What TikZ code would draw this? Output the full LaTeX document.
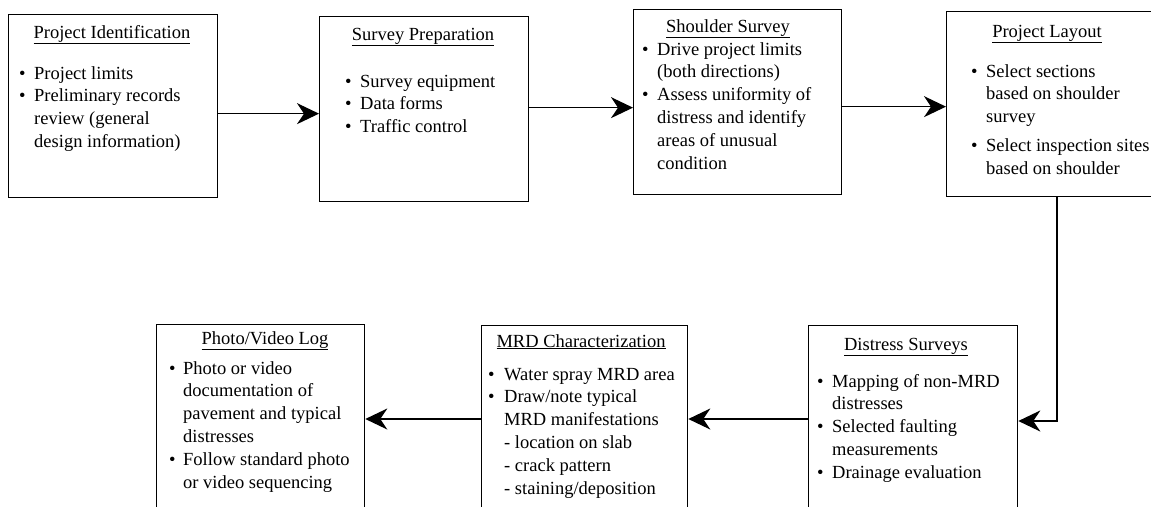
\documentclass[tikz,border=0pt]{standalone}
\usepackage{fontspec}
\setmainfont{Liberation Serif}
\usetikzlibrary{arrows.meta}
\newcommand\bl{\textbullet}
\begin{document}
\begin{tikzpicture}[x=1pt,y=-1pt,
  boxs/.style={draw, line width=1.3pt, inner sep=0pt, anchor=north west},
  ttl/.style={anchor=base, inner sep=0pt, font=\fontsize{18.5}{22.8}\selectfont},
  body/.style={anchor=base west, inner sep=0pt, font=\fontsize{18.5}{22.8}\selectfont},
  arr/.style={line width=1.3pt, -{Stealth[length=22pt,width=21pt,inset=7pt]}}]
\useasboundingbox (0,0) rectangle (1151,506);
\fill[white] (0,0) rectangle (1151,506);

% top row boxes
\node[boxs, minimum width=209pt, minimum height=183pt] (b1) at (8,14) {};
\node[boxs, minimum width=209pt, minimum height=185pt] (b2) at (319,16) {};
\node[boxs, minimum width=208pt, minimum height=185pt] (b3) at (633,9) {};
\node[boxs, minimum width=212pt, minimum height=185pt] (b4) at (946,11) {};
% bottom row boxes
\node[boxs, minimum width=208pt, minimum height=200pt] (p) at (156,324) {};
\node[boxs, minimum width=206pt, minimum height=200pt] (m) at (481,325) {};
\node[boxs, minimum width=209pt, minimum height=200pt] (d) at (808,325) {};

% titles
\node[ttl] (t1) at (112,38) {\underline{Project Identification}};
\node[ttl] (t2) at (423,40) {\underline{Survey Preparation}};
\node[ttl] (t3) at (728,32) {\underline{Shoulder Survey}};
\node[ttl] (t4) at (1047,37) {\underline{Project Layout}};
\node[ttl] (tp) at (265,344) {\underline{Photo/Video Log}};
\node[ttl] (tm) at (581,347) {\underline{MRD Characterization}};
\node[ttl] (td) at (906,350) {\underline{Distress Surveys}};

% bodies
\node[body] (x1) at (19,79) {\begin{tabular}[t]{@{}p{15pt}@{}l@{}}
\bl & Project limits\\
\bl & Preliminary records\\
 & review (general\\
 & design information)
\end{tabular}};
\node[body] (x2) at (345,87) {\begin{tabular}[t]{@{}p{15pt}@{}l@{}}
\bl & Survey equipment\\
\bl & Data forms\\
\bl & Traffic control
\end{tabular}};
\node[body] (x3) at (642,55) {\begin{tabular}[t]{@{}p{15pt}@{}l@{}}
\bl & Drive project limits\\
 & (both directions)\\
\bl & Assess uniformity of\\
 & distress and identify\\
 & areas of unusual\\
 & condition
\end{tabular}};
\node[body] (x4) at (971,77) {\begin{tabular}[t]{@{}p{15pt}@{}l@{}}
\bl & Select sections\\
 & based on shoulder\\
 & survey\\[6pt]
\bl & Select inspection sites\\
 & based on shoulder
\end{tabular}};
\node[body] (xp) at (169,374) {\begin{tabular}[t]{@{}p{14pt}@{}l@{}}
\bl & Photo or video\\
 & documentation of\\
 & pavement and typical\\
 & distresses\\
\bl & Follow standard photo\\
 & or video sequencing
\end{tabular}};
\node[body] (xm) at (488,380) {\begin{tabular}[t]{@{}p{16pt}@{}l@{}}
\bl & Water spray MRD area\\
\bl & Draw/note typical\\
 & MRD manifestations\\
 & - location on slab\\
 & - crack pattern\\
 & - staining/deposition
\end{tabular}};
\node[body] (xd) at (817,387) {\begin{tabular}[t]{@{}p{15pt}@{}l@{}}
\bl & Mapping of non-MRD\\
 & distresses\\
\bl & Selected faulting\\
 & measurements\\
\bl & Drainage evaluation
\end{tabular}};

% connectors
\draw[arr] ([yshift=-7.5pt]b1.east) -- ([yshift=-7.5pt]b1.east -| b2.west);
\draw[arr] ([yshift=1.5pt]b2.east) -- ([yshift=1.5pt]b2.east -| b3.west);
\draw[arr] ([yshift=-4.5pt]b3.east) -- ([yshift=-4.5pt]b3.east -| b4.west);
\coordinate (turn) at (1057,421);
\draw[arr] (b4.south -| turn) -- (turn) -- (turn -| d.east);
\coordinate (row) at (0,419);
\draw[arr] (d.west |- row) -- (m.east |- row);
\draw[arr] (m.west |- row) -- (p.east |- row);
\end{tikzpicture}
\end{document}
